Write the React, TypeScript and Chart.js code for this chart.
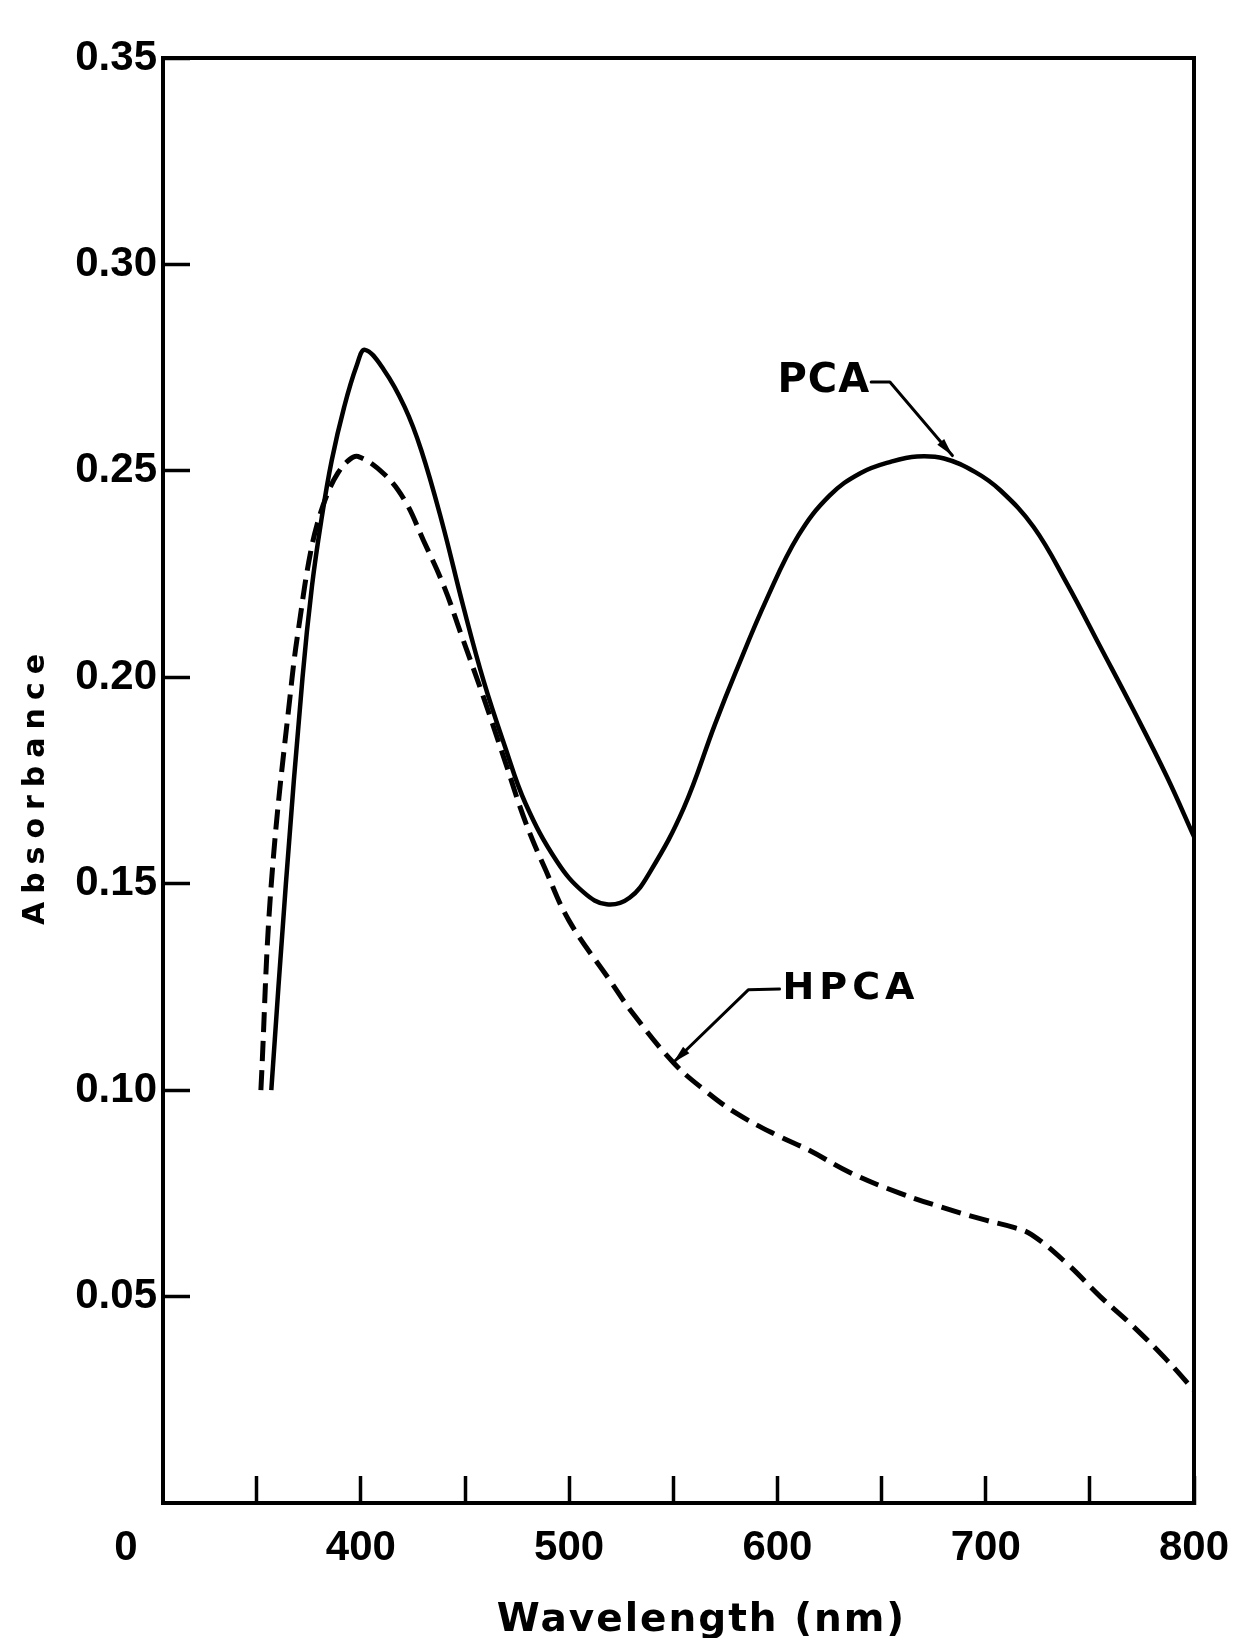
import React, { useEffect, useRef } from "react";
import { Chart, registerables } from "chart.js";

Chart.register(...registerables);

// ---- data ----
const PCA_NM = [357, 364, 372, 376.5, 381, 386, 392, 398, 402, 411, 421, 429, 439, 449, 459, 469, 479, 494, 507, 518, 529, 539, 555, 570, 580, 595, 610, 625, 640, 655, 667, 680, 695, 707, 723, 739, 755, 771, 787, 800];
const PCA_ABS = [0.100, 0.150, 0.200, 0.222, 0.238, 0.2525, 0.2655, 0.2755, 0.2793, 0.2745, 0.2655, 0.2550, 0.2375, 0.2175, 0.1990, 0.1835, 0.1695, 0.1555, 0.1479, 0.1450, 0.1466, 0.1530, 0.1683, 0.1886, 0.2013, 0.2191, 0.2343, 0.2440, 0.2495, 0.2523, 0.2535, 0.2530, 0.2497, 0.2453, 0.2364, 0.2227, 0.2074, 0.1920, 0.1759, 0.1614];

const HPCA_NM = [352, 357, 367, 371, 375, 379, 384, 389, 394, 398.5, 411, 421, 430, 440, 448, 459, 469, 479, 489, 500, 519, 530, 550, 565, 580, 600, 615, 635, 659, 683, 700, 713, 722, 739, 755, 771, 787, 800];
const HPCA_ABS = [0.100, 0.150, 0.200, 0.215, 0.228, 0.237, 0.2445, 0.2495, 0.2525, 0.2535, 0.2493, 0.2429, 0.2332, 0.2219, 0.2106, 0.1950, 0.1800, 0.1650, 0.1530, 0.1410, 0.1270, 0.1190, 0.1067, 0.1000, 0.0945, 0.0890, 0.0855, 0.0800, 0.0750, 0.0710, 0.0685, 0.0668, 0.0650, 0.0580, 0.0500, 0.0427, 0.0346, 0.0273];

const X_TICKS = [350, 400, 450, 500, 550, 600, 650, 700, 750, 800];
const X_TICK_LABELS = ["", "400", "", "500", "", "600", "", "700", "", "800"];
const Y_TICKS = [0.05, 0.1, 0.15, 0.2, 0.25, 0.3, 0.35];
const Y_TICK_LABELS = ["0.05", "0.10", "0.15", "0.20", "0.25", "0.30", "0.35"];
const ORIGIN_LABEL = "0";
const X_TITLE = "Wavelength (nm)";
const Y_TITLE = "Absorbance";
const SERIES_NAMES = ["PCA", "HPCA"];
const X_RANGE = [305, 800];
const Y_RANGE = [0, 0.35];

const TICK_FONT = '"Liberation Sans", Arial, sans-serif';
const TICK_SIZE = 42;
const LABEL_FONT = '"DejaVu Sans", sans-serif';

// callouts: text + leader path in data units (nm, absorbance)
const CALLOUTS = [
  { text: SERIES_NAMES[0], align: "right", size: 40, spacing: 1, path: [[645, 0.2715], [654, 0.2715], [684, 0.2537]] },
  { text: SERIES_NAMES[1], align: "left", size: 38, spacing: 5, path: [[601, 0.1245], [586, 0.1243], [550, 0.1067]] },
];

const framePlugin = {
  id: "frameAndCallouts",
  beforeDraw(chart: any) {
    const specs: Record<string, { sp: string; dx: number; dy: number }> = {
      x: { sp: "2px", dx: 23, dy: 0 },
      y: { sp: "8px", dx: 0, dy: 5 },
    };
    for (const id of ["x", "y"]) {
      const s: any = chart.scales[id];
      if (s && !s.__patched) {
        const orig = s.drawTitle.bind(s);
        const sp = specs[id];
        s.drawTitle = function () {
          const c = this.ctx;
          c.save();
          c.letterSpacing = sp.sp;
          c.translate(sp.dx, sp.dy);
          orig();
          c.restore();
        };
        s.__patched = true;
      }
    }
  },
  afterDraw(chart: any) {
    const { ctx, chartArea: a, scales } = chart;
    const xs = scales.x;
    const ys = scales.y;
    ctx.save();
    ctx.strokeStyle = "#000";
    ctx.fillStyle = "#000";
    ctx.lineWidth = 4;
    ctx.lineCap = "square";
    ctx.beginPath();
    ctx.moveTo(a.left, a.top);
    ctx.lineTo(a.right, a.top);
    ctx.lineTo(a.right, a.bottom);
    ctx.stroke();

    ctx.font = `bold ${TICK_SIZE}px ${TICK_FONT}`;
    ctx.textAlign = "center";
    ctx.textBaseline = "middle";
    ctx.fillText(ORIGIN_LABEL, a.left - 37, a.bottom + 45);

    for (const c of CALLOUTS) {
      const pts = c.path.map(([nm, v]) => [xs.getPixelForValue(nm), ys.getPixelForValue(v)]);
      ctx.lineWidth = 3;
      ctx.lineCap = "round";
      ctx.lineJoin = "round";
      ctx.beginPath();
      pts.forEach(([px, py], i) => (i ? ctx.lineTo(px, py) : ctx.moveTo(px, py)));
      ctx.stroke();
      const [tx, ty] = pts[pts.length - 1];
      const [sx, sy] = pts[pts.length - 2];
      const ang = Math.atan2(ty - sy, tx - sx);
      const L = 18;
      const W = 4.5;
      ctx.beginPath();
      ctx.moveTo(tx, ty);
      ctx.lineTo(tx - L * Math.cos(ang) + W * Math.sin(ang), ty - L * Math.sin(ang) - W * Math.cos(ang));
      ctx.lineTo(tx - L * Math.cos(ang) - W * Math.sin(ang), ty - L * Math.sin(ang) + W * Math.cos(ang));
      ctx.closePath();
      ctx.fill();

      ctx.font = `bold ${c.size}px ${LABEL_FONT}`;
      ctx.letterSpacing = `${c.spacing}px`;
      ctx.textBaseline = "middle";
      const [lx, ly] = pts[0];
      if (c.align === "right") {
        ctx.textAlign = "right";
        ctx.fillText(c.text, lx - 2 + c.spacing, ly);
      } else {
        ctx.textAlign = "left";
        ctx.fillText(c.text, lx + 3, ly);
      }
      ctx.letterSpacing = "0px";
    }
    ctx.restore();
  },
};

export default function App() {
  const ref = useRef<HTMLCanvasElement | null>(null);

  useEffect(() => {
    if (!ref.current) return;
    const chart = new Chart(ref.current, {
      type: "line",
      data: {
        datasets: [
          {
            label: SERIES_NAMES[0],
            data: PCA_NM.map((v, i) => ({ x: v, y: PCA_ABS[i] })),
            borderColor: "#000",
            borderWidth: 4.5,
            pointRadius: 0,
            tension: 0.4,
            fill: false,
          },
          {
            label: SERIES_NAMES[1],
            data: HPCA_NM.map((v, i) => ({ x: v, y: HPCA_ABS[i] })),
            borderColor: "#000",
            borderWidth: 5,
            borderDash: [20, 9],
            pointRadius: 0,
            tension: 0.4,
            fill: false,
          },
        ],
      },
      options: {
        animation: false,
        responsive: false,
        events: [],
        layout: { padding: { top: 50, right: 47, left: 0, bottom: 0 } },
        plugins: { legend: { display: false }, tooltip: { enabled: false } },
        scales: {
          x: {
            type: "linear",
            min: X_RANGE[0],
            max: X_RANGE[1],
            afterBuildTicks: (s: any) => {
              s.ticks = X_TICKS.map((v) => ({ value: v }));
            },
            afterFit: (s: any) => {
              s.height = 143;
              s.paddingLeft = 0;
              s.paddingRight = 0;
            },
            grid: { drawOnChartArea: false, drawTicks: true, tickLength: -27, tickWidth: 3.5, tickColor: "#000" },
            border: { display: true, color: "#000", width: 4 },
            ticks: {
              autoSkip: false,
              maxRotation: 0,
              minRotation: 0,
              padding: 47,
              color: "#000",
              font: { family: TICK_FONT, size: TICK_SIZE, weight: "bold" },
              callback: (_v: any, i: number) => X_TICK_LABELS[i],
            },
            title: {
              display: true,
              text: X_TITLE,
              color: "#000",
              font: { family: LABEL_FONT, size: 39, weight: "bold", lineHeight: 0.9 },
              padding: { top: 0, bottom: 8 },
            },
          },
          y: {
            type: "linear",
            min: Y_RANGE[0],
            max: Y_RANGE[1],
            afterBuildTicks: (s: any) => {
              s.ticks = Y_TICKS.map((v) => ({ value: v }));
            },
            afterFit: (s: any) => {
              s.width = 155;
              s.paddingTop = 0;
              s.paddingBottom = 0;
            },
            grid: { drawOnChartArea: false, drawTicks: true, tickLength: -27, tickWidth: 3.5, tickColor: "#000" },
            border: { display: true, color: "#000", width: 4 },
            ticks: {
              autoSkip: false,
              padding: 33,
              color: "#000",
              font: { family: TICK_FONT, size: TICK_SIZE, weight: "bold" },
              callback: (_v: any, i: number) => Y_TICK_LABELS[i],
            },
            title: {
              display: true,
              text: Y_TITLE,
              color: "#000",
              font: { family: LABEL_FONT, size: 30, weight: "bold", lineHeight: 1 },
              padding: { top: 13, bottom: 0 },
            },
          },
        },
      } as any,
      plugins: [framePlugin as any],
    });
    return () => chart.destroy();
  }, []);

  return (
    <div style={{ width: 1233, height: 1638, marginBottom: -8 }}>
      <canvas ref={ref} width={1233} height={1638} style={{ display: "block", width: 1233, height: 1638 }} />
    </div>
  );
}
